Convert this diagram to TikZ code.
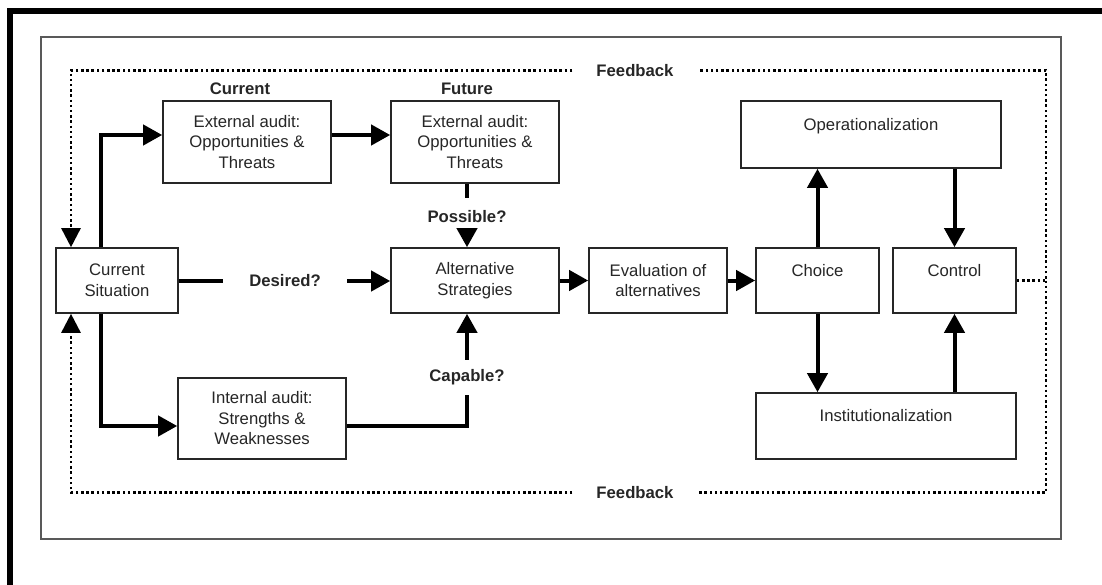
\documentclass[tikz,border=0pt]{standalone}
\usepackage{fontspec}
\setmainfont{Liberation Sans}
\usetikzlibrary{arrows.meta}

\newcommand\boxfont{\fontsize{16.7}{20.5}\selectfont}
\newcommand\lblfont{\fontsize{16.7}{20.5}\selectfont\bfseries}

\tikzset{
  box/.style={draw=black!85, line width=1.6pt, inner sep=0pt, align=center,
    font=\boxfont, text=black!85},
  lbl/.style={inner sep=0pt, font=\lblfont, text=black!85},
  link/.style={line width=4pt, black, line join=miter},
  conn/.style={link, -{Triangle[length=19pt,width=20pt]}},
  fb/.style={line width=2.6pt, black, dash pattern=on 2.5pt off 2.7pt},
  fbarrow/.style={fb, -{Triangle[length=19pt,width=19pt]}},
  frame/.style={draw=black!65, line width=2pt},
}

\begin{document}
\begin{tikzpicture}[x=1pt, y=-1pt]
  \useasboundingbox (0,0) rectangle (1102,585);

  % heavy page border (top and left)
  \draw[line width=5.5pt, line join=miter] (10,600) -- (10,11) -- (1115,11);
  % inner frame
  \draw[frame] (41,37) rectangle (1061,539);

  % process boxes
  \node[box, minimum width=122pt, minimum height=65pt] (cs)     at (117,280.5) {Current\\Situation};
  \node[box, minimum width=168pt, minimum height=82pt] (eac)    at (247,142)   {External audit:\\Opportunities \&\\Threats};
  \node[box, minimum width=168pt, minimum height=82pt] (eaf)    at (475,142)   {External audit:\\Opportunities \&\\Threats};
  \node[box, minimum width=168pt, minimum height=65pt] (alt)    at (475,280.5) {Alternative\\Strategies};
  \node[box, minimum width=138pt, minimum height=65pt] (eval)   at (658,280.5) {Evaluation of\\alternatives};
  \node[box, minimum width=123pt, minimum height=65pt] (choice) at (817.5,280.5) {Choice\\\mbox{}};
  \node[box, minimum width=123pt, minimum height=65pt] (ctrl)   at (954.5,280.5) {Control\\\mbox{}};
  \node[box, minimum width=260pt, minimum height=67pt] (oper)   at (871,134.5) {Operationalization\\\mbox{}};
  \node[box, minimum width=260pt, minimum height=66pt] (inst)   at (886,426)   {Institutionalization\\\mbox{}};
  \node[box, minimum width=168pt, minimum height=81pt] (ia)     at (262,418.5) {Internal audit:\\Strengths \&\\Weaknesses};

  % bold labels
  \node[lbl] (cur) at (240,89) {Current};
  \node[lbl] (fut) at (467,89) {Future};
  \node[lbl, minimum height=37pt] (poss) at (467,216.5) {Possible?};
  \node[lbl, minimum width=124pt] (des) at (285,281) {Desired?};
  \node[lbl, minimum height=35pt] (cap) at (467,377.5) {Capable?};
  \node[lbl, minimum width=125pt] (fbt) at (635,70.5) {Feedback};
  \node[lbl, minimum width=125pt] (fbb) at (635,492.5) {Feedback};

  % routing points
  \coordinate (k1) at (101,135);
  \coordinate (k2) at (101,426);
  \coordinate (tl) at (71,70.5);
  \coordinate (tr) at (1046,70.5);
  \coordinate (bl) at (71,492.5);
  \coordinate (br) at (1046,492.5);

  % main flow
  \draw[conn] (cs.north -| k1) -- (k1) -- (eac.west |- k1);
  \draw[conn] (eac.east |- k1) -- (eaf.west |- k1);
  \draw[link] (eaf.south -| poss) -- (poss.north);
  \draw[conn] (poss.south) -- (alt.north -| poss);
  \draw[link] (cs.east |- des) -- (des.west);
  \draw[conn] (des.east) -- (alt.west |- des);
  \draw[conn] (alt.east) -- (eval.west);
  \draw[conn] (eval.east) -- (choice.west);
  \draw[conn] (choice.north) -- (oper.south -| choice.north);
  \draw[conn] (oper.south -| ctrl.north) -- (ctrl.north);
  \draw[conn] (choice.south) -- (inst.north -| choice.south);
  \draw[conn] (inst.north -| ctrl.south) -- (ctrl.south);
  \draw[conn] (cs.south -| k2) -- (k2) -- (ia.west |- k2);
  \draw[link] (ia.east |- k2) -| (cap.south);
  \draw[conn] (cap.north) -- (alt.south -| cap);

  % feedback loop
  \draw[fb] (ctrl.east) -- (ctrl.east -| tr) -- (tr) -- (fbt.east);
  \draw[fbarrow] (fbt.west) -- (tl) -- (cs.north -| tl);
  \draw[fb] (ctrl.east -| br) -- (br) -- (fbb.east);
  \draw[fbarrow] (fbb.west) -- (bl) -- (cs.south -| bl);
\end{tikzpicture}
\end{document}
